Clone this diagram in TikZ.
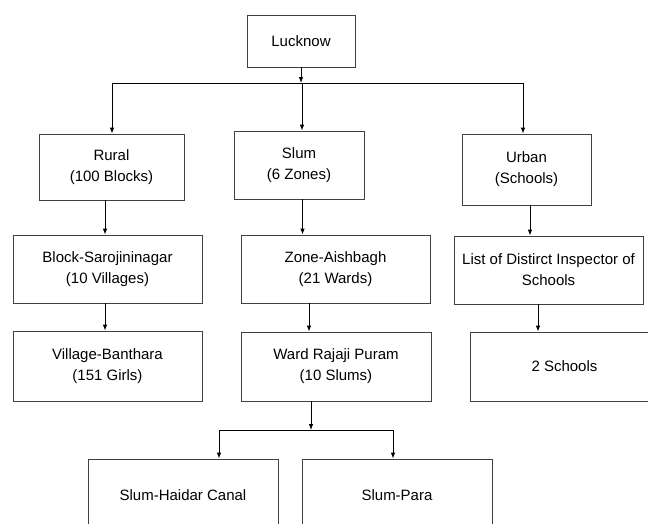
\documentclass[tikz,border=0pt]{standalone}
\usepackage{fontspec}
\setmainfont{Liberation Sans}
\usetikzlibrary{arrows.meta}
\begin{document}
\begin{tikzpicture}[x=1pt, y=-1pt, line width=0.8pt, >={Latex[length=6pt,width=4.5pt]},
  box/.style={draw=black!75, align=center, inner sep=2pt, font=\fontsize{15}{21}\selectfont}]
\clip (0,0) rectangle (648,523);
\node[box, minimum width=108pt, minimum height=52pt] (lucknow) at (301,41) {Lucknow};
\node[box, minimum width=145pt, minimum height=66pt] (rural) at (111.5,167) {Rural\\(100 Blocks)};
\node[box, minimum width=130pt, minimum height=68pt] (slum) at (299,165) {Slum\\(6 Zones)};
\node[box, minimum width=129pt, minimum height=71pt] (urban) at (526.5,169.5) {Urban\\(Schools)};
\node[box, minimum width=189pt, minimum height=68pt] (block) at (107.5,269) {Block-Sarojininagar\\(10 Villages)};
\node[box, minimum width=189pt, minimum height=68pt] (zone) at (335.5,269) {Zone-Aishbagh\\(21 Wards)};
\node[box, minimum width=189pt, minimum height=68pt] (list) at (548.5,270) {List of Distirct Inspector of\\Schools};
\node[box, minimum width=189pt, minimum height=70pt] (village) at (107.5,366) {Village-Banthara\\(151 Girls)};
\node[box, minimum width=190pt, minimum height=69pt] (ward) at (336,366.5) {Ward Rajaji Puram\\(10 Slums)};
\node[box, minimum width=189pt, minimum height=69pt] (schools) at (564.5,366.5) {2 Schools};
\node[box, minimum width=190pt, minimum height=72pt] (haidar) at (183,495) {Slum-Haidar Canal};
\node[box, minimum width=190pt, minimum height=72pt] (para) at (397,495) {Slum-Para};
% top level bus
\coordinate (bus) at (302,83);
\coordinate (busL) at (112,83);
\coordinate (busR) at (523,83);
\draw[->] (lucknow.south) -- ([xshift=-1pt]bus);
\draw (busL) -- (busR);
\draw[->] (busL) -- (busL |- rural.north);
\draw[->] (bus) -- (bus |- slum.north);
\draw[->] (busR) -- (busR |- urban.north);
% columns
\draw[->] ([xshift=-6.5pt]rural.south) -- ([xshift=-6.5pt]rural.south |- block.north);
\draw[->] ([xshift=3.5pt]slum.south) -- ([xshift=3.5pt]slum.south |- zone.north);
\draw[->] ([xshift=3.5pt]urban.south) -- ([xshift=3.5pt]urban.south |- list.north);
\draw[->] ([xshift=-2.5pt]block.south) -- ([xshift=-2.5pt]block.south |- village.north);
\draw[->] ([xshift=-26.5pt]zone.south) -- ([xshift=-26.5pt]zone.south |- ward.north);
\draw[->] ([xshift=-10.5pt]list.south) -- ([xshift=-10.5pt]list.south |- schools.north);
% slum bus
\coordinate (sbus) at (311,430);
\coordinate (sbusL) at (219,430);
\coordinate (sbusR) at (393,430);
\draw[->] ([xshift=-25pt]ward.south) -- (sbus);
\draw (sbusL) -- (sbusR);
\draw[->] (sbusL) -- (sbusL |- haidar.north);
\draw[->] (sbusR) -- (sbusR |- para.north);
\end{tikzpicture}
\end{document}
